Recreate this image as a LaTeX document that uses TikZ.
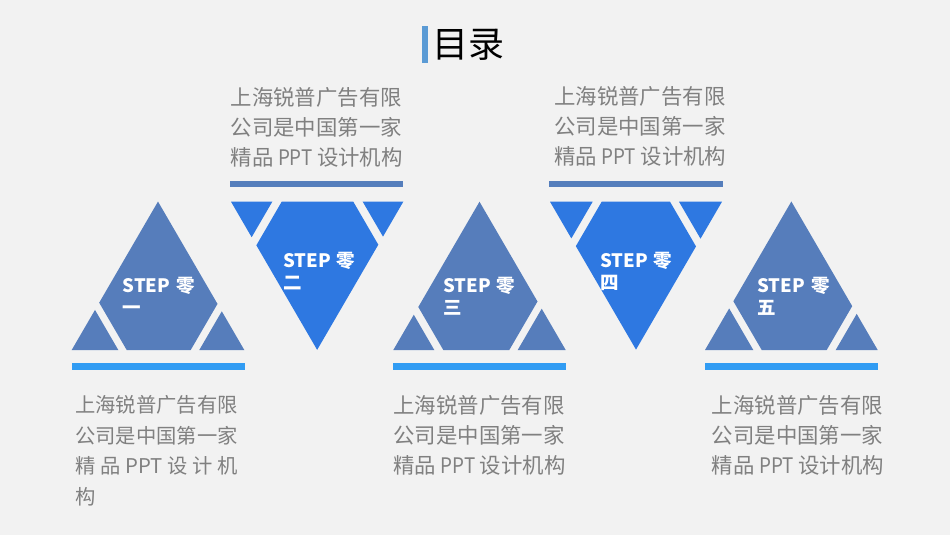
\documentclass[tikz,border=0pt]{standalone}
\usepackage{fontspec}
\setmainfont{Noto Sans CJK SC}
\definecolor{bgcol}{HTML}{F2F2F2}
\definecolor{upcol}{HTML}{567DBB}
\definecolor{downcol}{HTML}{2E78E1}
\definecolor{lightbar}{HTML}{319CF3}
\definecolor{darkbar}{HTML}{557EBC}
\definecolor{titlebar}{HTML}{5B9BD5}
\definecolor{desccol}{HTML}{808080}
\newcommand\Ppt{\hspace{4.5pt}\scalebox{0.88}[1]{PPT}\hspace{4.5pt}}
\tikzset{
  upfill/.style={fill=upcol},
  downfill/.style={fill=downcol},
  botbar/.style={fill=lightbar},
  topbar/.style={fill=darkbar},
  desc/.style={anchor=north west,inner sep=0pt,align=left,text=desccol,
    font=\fontsize{21.4}{30}\selectfont},
  descsmall/.style={desc,font=\fontsize{20.3}{30.5}\selectfont},
  steplabel/.style={anchor=north west,inner sep=0pt,align=left,text=white,
    font=\bfseries\fontsize{18.5}{22}\selectfont},
  titletext/.style={anchor=west,inner sep=0pt,text=black,
    font=\fontsize{36}{40}\selectfont}
}
% up triangle: #1 L, #2 R, #3 base y, #4 aL, #5 cL, #6 aR, #7 cR
\newcommand\UpTri[7]{%
  \fill[upfill] (#1,#3) -- ({#1+#4},#3) -- ({#1+#4/2},{#3-#4*0.86}) -- cycle;
  \fill[upfill] ({#2-#6},#3) -- (#2,#3) -- ({#2-#6/2},{#3-#6*0.86}) -- cycle;
  \fill[upfill] ({#1+#5},#3) -- ({#2-#7},#3) -- ({#2-#7/2},{#3-#7*0.86})
     -- ({(#1+#2)/2},{#3-(#2-#1)*0.86}) -- ({#1+#5/2},{#3-#5*0.86}) -- cycle;
}
% down triangle: #1 L, #2 R, #3 top y, #4 aL, #5 cL, #6 aR, #7 cR
\newcommand\DownTri[7]{%
  \fill[downfill] (#1,#3) -- ({#1+#4},#3) -- ({#1+#4/2},{#3+#4*0.86}) -- cycle;
  \fill[downfill] ({#2-#6},#3) -- (#2,#3) -- ({#2-#6/2},{#3+#6*0.86}) -- cycle;
  \fill[downfill] ({#1+#5},#3) -- ({#2-#7},#3) -- ({#2-#7/2},{#3+#7*0.86})
     -- ({(#1+#2)/2},{#3+(#2-#1)*0.86}) -- ({#1+#5/2},{#3+#5*0.86}) -- cycle;
}
\begin{document}
\begin{tikzpicture}[x=1pt,y=-1pt]
\fill[bgcol] (0,0) rectangle (950,535);
\useasboundingbox (0,0) rectangle (950,535);

% title
\fill[titlebar] (422.3,25.7) rectangle (428.3,62.7);
\node[titletext] (title) at (432,44.5) {目录};

% triangles
\UpTri{71.7}{244.3}{350}{46.6}{55}{45}{53.6}
\DownTri{231}{403.3}{201.7}{41.3}{50.7}{40.6}{50}
\UpTri{393.3}{565.7}{350}{41}{50}{48}{56.4}
\DownTri{550}{722}{201.7}{42.7}{51.7}{43}{52}
\UpTri{705}{877.7}{350}{48.3}{56.7}{42}{51}

% bars
\fill[botbar] (71.7,363.3) rectangle (245.3,370.3);
\fill[botbar] (393.3,363.3) rectangle (565.7,370.3);
\fill[botbar] (705,363.3) rectangle (877.7,370.3);
\fill[topbar] (230,181) rectangle (403.3,187.3);
\fill[topbar] (549.3,181) rectangle (722.7,187.3);

% step labels
\node[steplabel] (s1) at (122.5,277) {STEP\hspace{6pt}零\\一};
\node[steplabel] (s2) at (283,252) {STEP\hspace{6pt}零\\二};
\node[steplabel] (s3) at (443,277) {STEP\hspace{6pt}零\\三};
\node[steplabel] (s4) at (600,252) {STEP\hspace{6pt}零\\四};
\node[steplabel] (s5) at (757.3,277) {STEP\hspace{6pt}零\\五};

% descriptions
\node[desc] (d2) at (230.5,87) {上海锐普广告有限\\公司是中国第一家\\精品\Ppt 设计机构};
\node[desc] (d4) at (554,86) {上海锐普广告有限\\公司是中国第一家\\精品\Ppt 设计机构};
\node[descsmall] (d1) at (75,395.5) {上海锐普广告有限\\公司是中国第一家\\\makebox[163pt][l]{精\hfill 品\hfill PPT\hfill 设\hfill 计\hfill 机}\\构};
\node[desc] (d3) at (393.3,395.5) {上海锐普广告有限\\公司是中国第一家\\精品\Ppt 设计机构};
\node[desc] (d5) at (711.7,395.5) {上海锐普广告有限\\公司是中国第一家\\精品\Ppt 设计机构};
\end{tikzpicture}
\end{document}
